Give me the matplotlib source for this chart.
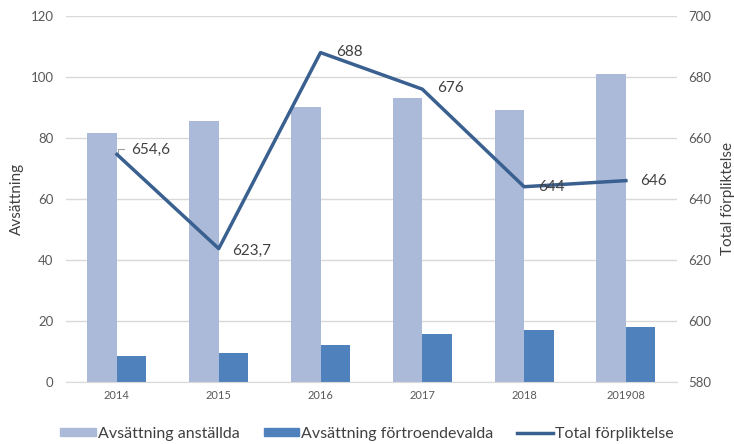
import matplotlib
matplotlib.use("Agg")
import matplotlib.pyplot as plt
import numpy as np
from matplotlib.patches import Patch
from matplotlib.lines import Line2D

plt.rcParams["font.family"] = ["Lato", "DejaVu Sans"]

years = ["2014", "2015", "2016", "2017", "2018", "201908"]
anstallda = [81.5, 85.5, 90.2, 93.0, 89.0, 101.0]
fortroendevalda = [8.5, 9.3, 12.0, 15.6, 17.1, 18.0]
forpliktelse = [654.6, 623.7, 688, 676, 644, 646]
point_labels = ["654,6", "623,7", "688", "676", "644", "646"]

LIGHT = "#abbad8"
DARK = "#4f81bd"
LINE = "#3a6090"
GRID = "#d9d9d9"
TEXT = "#595959"

fig = plt.figure(figsize=(7.34, 4.44), dpi=100)
ax = fig.add_axes([0.090, 0.140, 0.832, 0.824])
ax2 = ax.twinx()

x = np.arange(len(years))
w = 0.29
ax.bar(x - w / 2, anstallda, w, color=LIGHT, zorder=2)
ax.bar(x + w / 2, fortroendevalda, w, color=DARK, zorder=2)

ax.set_xlim(-0.5, len(years) - 0.5)
ax.set_ylim(0, 120)
ax.set_yticks(range(0, 121, 20))
ax.grid(axis="y", color=GRID, linewidth=1, zorder=0)
ax.set_xticks(x)
ax.set_xticklabels(years, fontsize=8, color=TEXT)
ax.tick_params(axis="y", labelsize=9.5, colors=TEXT, length=0, pad=9)
ax.tick_params(axis="x", length=0, pad=6)
ax.set_ylabel("Avsättning", fontsize=11, color="#404040", labelpad=5)

ax2.plot(x, forpliktelse, color=LINE, linewidth=2.5, zorder=3)
ax2.set_ylim(580, 700)
ax2.set_yticks(range(580, 701, 20))
ax2.tick_params(axis="y", labelsize=9.5, colors=TEXT, length=0, pad=8.5)
ax2.set_ylabel("Total förpliktelse", fontsize=11, color="#404040", labelpad=7)

# data labels to the right of each point
offsets = [(10, 3.5), (10, -1.5), (11, 0.5), (11, 0.5), (10, 0), (10, 0)]
for xi, yi, lab, (dx, dy) in zip(x, forpliktelse, point_labels, offsets):
    ax2.annotate(lab, (xi, yi), xytext=(dx, dy), textcoords="offset points",
                 fontsize=11, color="#404040", va="center", ha="left")
ax2.plot([x[0] + 0.01, x[0] + 0.01, x[0] + 0.07],
         [forpliktelse[0] + 0.3, forpliktelse[0] + 1.8, forpliktelse[0] + 1.8],
         color="#a0a0a0", linewidth=0.8)

for a in (ax, ax2):
    for s in a.spines.values():
        s.set_visible(False)
ax.spines["bottom"].set_visible(True)
ax.spines["bottom"].set_color(GRID)

handles = [Patch(color=LIGHT), Patch(color=DARK), Line2D([], [], color=LINE, linewidth=2.5)]
labels = ["Avsättning anställda", "Avsättning förtroendevalda", "Total förpliktelse"]
fig.legend(handles, labels, loc="lower center", bbox_to_anchor=(0.5, -0.025), ncol=3,
           frameon=False, fontsize=11.5, handlelength=2.2, handleheight=0.45,
           handletextpad=0.15, columnspacing=1.5, labelcolor="#404040")

fig.savefig("out.png", dpi=100)
